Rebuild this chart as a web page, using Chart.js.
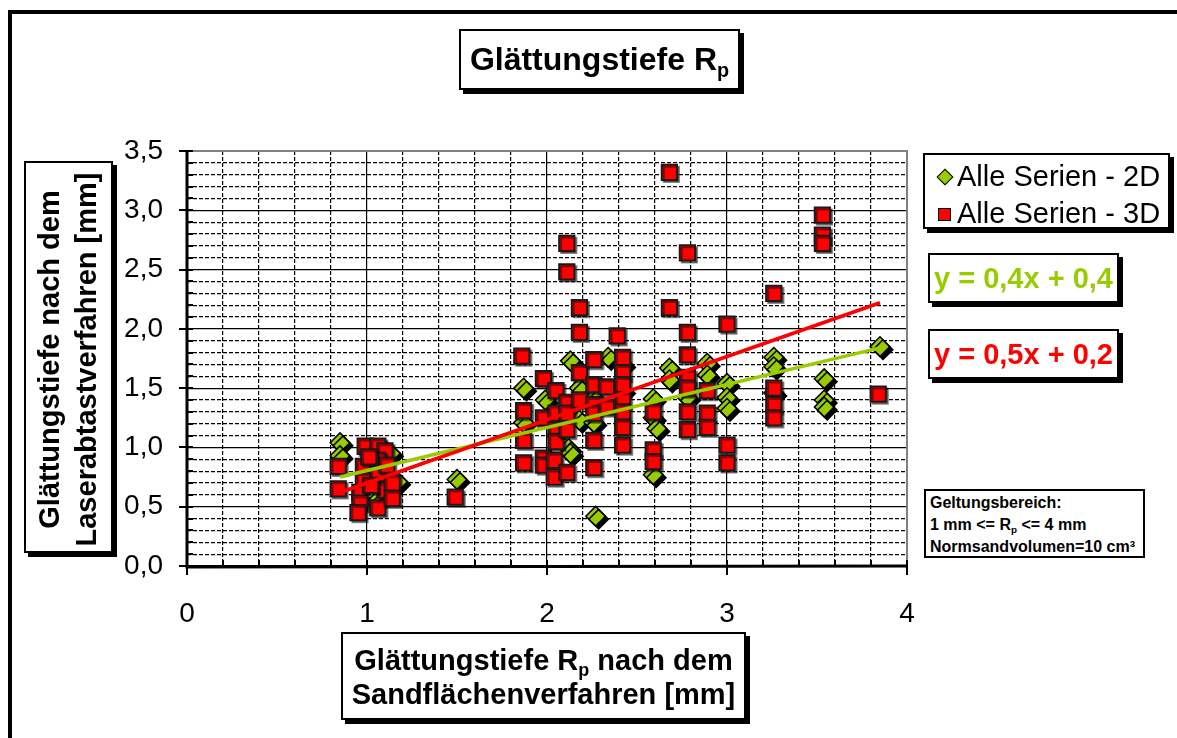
<!DOCTYPE html>
<html><head><meta charset="utf-8">
<script src="https://cdn.jsdelivr.net/npm/chart.js@4.4.0/dist/chart.umd.min.js"></script>
<style>
html,body{margin:0;padding:0;background:#fff;}
#wrap{position:relative;width:1177px;height:738px;overflow:hidden;font-family:"Liberation Sans",Arial,sans-serif;color:#000;}
#c{position:absolute;left:0;top:0;}
.frame{position:absolute;left:8px;top:10px;width:1300px;height:900px;border-left:4px solid #000;border-top:4px solid #000;}
.box{position:absolute;background:#fff;border:2px solid #000;box-shadow:4px 4px 0 #000;box-sizing:border-box;}
sub{font-size:62%;vertical-align:-0.35em;line-height:0;}
.title{left:459px;top:29px;width:281px;height:61px;font-weight:bold;font-size:32px;line-height:56px;text-align:center;white-space:nowrap;}
.legend{left:923px;top:153px;width:247px;height:76px;font-size:29px;}
.lrow{position:absolute;left:32px;white-space:nowrap;line-height:34px;}
.dia{position:absolute;width:10px;height:10px;background:#99CC00;border:1.5px solid #000;transform:rotate(45deg);}
.sq{position:absolute;width:11px;height:11px;background:#FF0000;border:1.5px solid #000;}
.eq{left:928px;width:191px;height:50px;font-weight:bold;font-size:29px;line-height:46px;padding-left:4px;white-space:nowrap;}
.note{left:924px;top:489px;width:221px;height:69px;font-weight:bold;font-size:16px;line-height:22px;padding:1px 0 0 4px;white-space:nowrap;box-shadow:none;}
.xt{left:341px;top:632px;width:405px;height:88px;font-weight:bold;font-size:29px;line-height:34px;text-align:center;padding-top:9px;white-space:nowrap;}
.yt{left:24px;top:161px;width:89px;height:392px;}
.yt .in{position:absolute;width:392px;height:89px;left:-153.5px;top:151.5px;transform:rotate(-90deg);font-weight:bold;font-size:29px;line-height:37px;text-align:center;white-space:nowrap;padding-top:6px;box-sizing:border-box;}
</style></head>
<body>
<div id="wrap">
<div class="frame"></div>
<canvas id="c" width="1177" height="738"></canvas>
<div class="box title">Glättungstiefe R<sub>p</sub></div>
<div class="box legend">
  <div class="dia" style="left:14px;top:16px;"></div>
  <div class="lrow" style="top:4px;">Alle Serien - 2D</div>
  <div class="sq" style="left:13px;top:53px;"></div>
  <div class="lrow" style="top:41px;">Alle Serien - 3D</div>
</div>
<div class="box eq" style="top:253px;color:#99CC00;">y = 0,4x + 0,4</div>
<div class="box eq" style="top:329px;color:#FF0000;">y = 0,5x + 0,2</div>
<div class="box note">Geltungsbereich:<br>1 mm &lt;= R<sub>p</sub> &lt;= 4 mm<br>Normsandvolumen=10 cm³</div>
<div class="box xt">Glättungstiefe R<sub>p</sub> nach dem<br>Sandflächenverfahren [mm]</div>
<div class="box yt"><div class="in">Glättungstiefe nach dem<br>Laserabtastverfahren [mm]</div></div>
</div>
<script>
// ---- data ----
const seriesNames = ["Alle Serien - 2D", "Alle Serien - 3D"];
const x2D = [0.85,0.85,1.10,1.13,1.05,1.17,1.00,1.50,
  1.87,1.87,1.99,2.13,2.12,2.13,2.18,2.18,2.26,2.26,2.27,2.34,2.42,2.42,
  2.59,2.59,2.61,2.59,2.68,2.68,2.78,2.89,2.89,3.00,3.00,3.00,
  3.26,3.26,3.26,3.54,3.54,3.54,3.85];
const y2D = [1.04,0.93,0.98,0.95,0.54,0.71,0.80,0.73,
  1.50,1.21,1.40,1.73,0.99,0.95,1.50,1.23,1.42,1.21,0.42,1.76,1.48,1.70,
  1.41,1.25,1.16,0.77,1.67,1.57,1.42,1.71,1.61,1.54,1.42,1.33,
  1.76,1.68,1.46,1.58,1.40,1.34,1.85];
const x3D = [0.84,0.84,0.99,1.06,1.10,0.98,0.98,0.96,0.96,0.95,1.06,1.06,1.06,1.10,1.11,1.14,1.14,1.01,1.02,
  1.49,
  1.86,1.87,1.87,1.87,1.98,1.98,1.98,1.98,2.04,2.04,2.05,2.05,2.05,2.05,
  2.11,2.11,2.11,2.11,2.11,2.11,2.18,2.18,2.18,2.18,
  2.26,2.26,2.26,2.26,2.26,2.26,2.33,2.33,2.39,
  2.42,2.42,2.42,2.42,2.42,2.42,2.42,
  2.59,2.59,2.59,2.68,2.68,
  2.78,2.78,2.78,2.78,2.78,2.78,2.78,
  2.89,2.89,2.89,3.00,3.00,3.00,
  3.26,3.26,3.26,3.26,3.53,3.53,3.53,3.84];
const y3D = [0.84,0.65,1.01,1.01,0.97,0.84,0.72,0.62,0.53,0.45,0.89,0.78,0.49,0.64,0.85,0.70,0.57,0.92,0.68,
  0.58,
  1.77,1.31,1.06,0.87,1.58,1.25,0.91,0.85,0.89,0.75,1.48,1.29,1.15,1.05,
  2.72,2.48,1.38,1.29,1.15,0.79,2.18,1.97,1.63,1.40,
  1.74,1.53,1.36,1.29,1.06,0.83,1.51,1.34,1.94,
  1.76,1.63,1.53,1.40,1.30,1.17,1.02,
  1.30,0.98,0.88,3.32,2.18,
  2.64,1.97,1.78,1.59,1.50,1.30,1.15,
  1.48,1.29,1.17,2.04,1.02,0.87,
  2.30,1.50,1.36,1.25,2.96,2.79,2.72,1.45];
// trend line end points
const trendX = [0.85, 3.85];
const trend2D = [0.75, 1.84];
const trend3D = [0.62, 2.22];
const yTickStep = 0.1, yMin = 0, yMax = 3.5;
const xTickStep = 0.2, xMin = 0, xMax = 4;

const pts = (xs, ys) => xs.map((x, i) => ({x: x, y: ys[i]}));
const isMajorY = v => Math.round(v * 10) % 5 === 0;
const isMajorX = v => Math.abs(v - Math.round(v)) < 1e-6;

const shadowPlugin = {
  id: 'shadow',
  beforeDatasetDraw(chart, args) {
    const s = chart.data.datasets[args.index].shadow;
    if (!s) return;
    const ctx = chart.ctx;
    ctx.save();
    ctx.shadowColor = s.color; ctx.shadowOffsetX = s.dx; ctx.shadowOffsetY = s.dy; ctx.shadowBlur = 0;
  },
  afterDatasetDraw(chart, args) {
    if (chart.data.datasets[args.index].shadow) chart.ctx.restore();
  }
};

const axisPlugin = {
  id: 'axisDeco',
  afterDraw(chart) {
    const ctx = chart.ctx, a = chart.chartArea;
    const xs = chart.scales.x, ys = chart.scales.y;
    ctx.save();
    ctx.strokeStyle = '#808080'; ctx.lineWidth = 2;
    ctx.beginPath();
    ctx.moveTo(a.left, a.top); ctx.lineTo(a.right, a.top); ctx.lineTo(a.right, a.bottom);
    ctx.stroke();
    ctx.strokeStyle = '#000';
    ctx.lineWidth = 2;
    ys.ticks.forEach(t => {
      const p = Math.round(ys.getPixelForValue(t.value));
      ctx.beginPath();
      ctx.moveTo(isMajorY(t.value) ? a.left - 8 : a.left, p);
      ctx.lineTo(a.left + 6, p);
      ctx.stroke();
    });
    xs.ticks.forEach(t => {
      const p = Math.round(xs.getPixelForValue(t.value));
      ctx.beginPath();
      ctx.moveTo(p, a.bottom - 6);
      ctx.lineTo(p, isMajorX(t.value) ? a.bottom + 9 : a.bottom);
      ctx.stroke();
    });
    ctx.lineWidth = 3;
    ctx.beginPath();
    ctx.moveTo(a.left, a.top - 1); ctx.lineTo(a.left, a.bottom + 1); ctx.lineTo(a.right + 1, a.bottom);
    ctx.stroke();
    ctx.restore();
  }
};

new Chart(document.getElementById('c'), {
  type: 'scatter',
  data: {
    datasets: [
      {label: 'Trend 3D', type: 'line', data: pts(trendX, trend3D), borderColor: '#FF0000', borderWidth: 3.5,
       pointRadius: 0, fill: false, order: 0},
      {label: 'Trend 2D', type: 'line', data: pts(trendX, trend2D), borderColor: '#99CC00', borderWidth: 3.5,
       pointRadius: 0, fill: false, order: 1},
      {label: seriesNames[1], data: pts(x3D, y3D), pointStyle: 'rect', pointRadius: 10.8,
       backgroundColor: '#FF0000', borderColor: '#1a1a1a', borderWidth: 2, order: 2,
       shadow: {color: 'rgba(0,0,0,0.45)', dx: 2, dy: 2}},
      {label: seriesNames[0], data: pts(x2D, y2D), pointStyle: 'rectRot', pointRadius: 9.8,
       backgroundColor: '#99CC00', borderColor: '#000', borderWidth: 1.5, order: 3,
       shadow: {color: '#000', dx: 3, dy: 3}}
    ]
  },
  options: {
    responsive: false, animation: false, events: [],
    layout: {padding: {left: 0, top: 151, right: 270, bottom: 0}},
    plugins: {legend: {display: false}, tooltip: {enabled: false}, title: {display: false}},
    scales: {
      x: {
        type: 'linear', min: xMin, max: xMax,
        afterFit: s => { s.height = 172; },
        ticks: {stepSize: xTickStep, autoSkip: false, maxRotation: 0, padding: 31, color: '#000',
          font: {family: 'Liberation Sans', size: 28},
          callback: v => isMajorX(v) ? String(Math.round(v)) : ''},
        grid: {color: '#000', lineWidth: 1.2, drawTicks: false},
        border: {display: false, dash: ctx => (ctx.tick && isMajorX(ctx.tick.value)) ? [] : [4, 2]}
      },
      y: {
        type: 'linear', min: yMin, max: yMax,
        afterFit: s => { s.width = 187; },
        ticks: {stepSize: yTickStep, autoSkip: false, padding: 24, color: '#000',
          font: {family: 'Liberation Sans', size: 28},
          callback: v => isMajorY(v) ? (Math.round(v * 10) / 10).toFixed(1).replace('.', ',') : ''},
        grid: {color: '#000', lineWidth: 1.2, drawTicks: false},
        border: {display: false, dash: ctx => (ctx.tick && isMajorY(ctx.tick.value)) ? [] : [4, 2]}
      }
    }
  },
  plugins: [shadowPlugin, axisPlugin]
});
</script>
</body></html>
